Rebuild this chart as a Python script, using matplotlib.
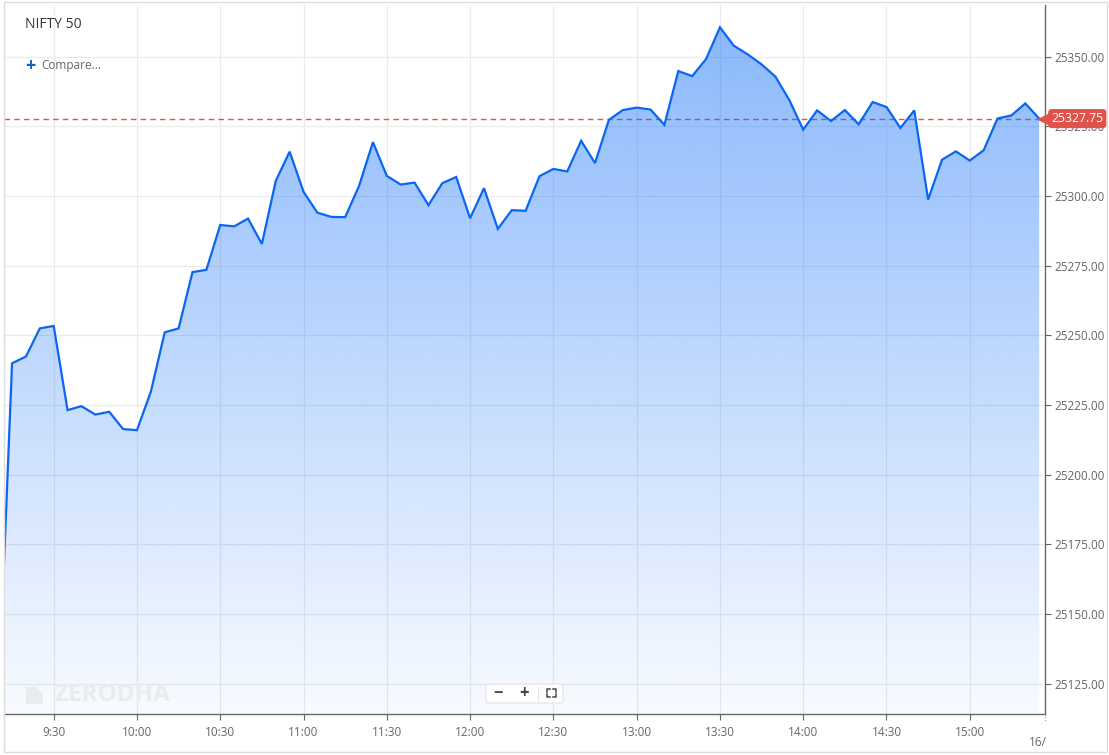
import numpy as np
import pandas as pd
import matplotlib
matplotlib.use("Agg")
import matplotlib.pyplot as plt
import matplotlib.transforms as mtransforms
from matplotlib.patches import Rectangle, Polygon, FancyBboxPatch
from matplotlib.lines import Line2D

plt.rcParams['font.family'] = ['Open Sans', 'DejaVu Sans']

# 5 minute closes, NIFTY 50 (9:10 is the tail of the previous candle, off the left edge)
start_time = "09:10"
closes = [25116.0,
          25240.0, 25242.4, 25252.5, 25253.4, 25223.2, 25224.6, 25221.6, 25222.6, 25216.4, 25216.0,
          25229.8, 25251.1, 25252.5, 25272.7, 25273.5, 25289.6, 25289.1, 25291.9, 25282.8, 25305.4,
          25315.9, 25301.5, 25294.0, 25292.5, 25292.4, 25303.6, 25319.3, 25307.2, 25304.1, 25304.8,
          25296.7, 25304.6, 25306.8, 25292.0, 25302.8, 25288.2, 25294.9, 25294.7, 25307.1, 25309.7,
          25308.8, 25319.8, 25311.8, 25327.3, 25330.8, 25331.7, 25331.0, 25325.5, 25344.8, 25343.0,
          25349.1, 25360.5, 25353.9, 25350.8, 25347.2, 25342.8, 25334.4, 25323.8, 25330.7, 25326.9,
          25330.8, 25325.7, 25333.7, 25331.9, 25324.4, 25330.7, 25298.7, 25313.0, 25316.0, 25312.7,
          25316.4, 25327.8, 25328.9, 25333.2, 25327.75]
last_price = 25327.75

x_ticks = ["9:30", "10:00", "10:30", "11:00", "11:30", "12:00", "12:30",
           "13:00", "13:30", "14:00", "14:30", "15:00"]
y_ticks = [25125, 25150, 25175, 25200, 25225, 25250, 25275, 25300, 25325, 25350]

times = pd.date_range("2025-09-17 " + start_time, periods=len(closes), freq="5min")
minutes = (times.hour * 60 + times.minute).to_numpy(dtype=float)
vals = np.array(closes)

def to_min(s):
    h, m = s.split(":")
    return int(h) * 60 + int(m)

W, H = 1109, 755
fig = plt.figure(figsize=(W / 100, H / 100), dpi=100)
fig.patch.set_facecolor("white")

def fx(p):
    return p / W

def fy(p):
    return 1 - p / H

ax = fig.add_axes([fx(4), fy(714), fx(1045) - fx(4), fy(5) - fy(714)])
ax.set_xlim(552.1, 927.1)
ax.set_ylim(25114.2, 25368.5)

# grid
ax.set_xticks([to_min(t) for t in x_ticks])
ax.set_xticklabels(x_ticks)
ax.set_yticks(y_ticks)
ax.set_yticklabels(["%.2f" % v for v in y_ticks])
ax.grid(True, color="#ebebeb", lw=0.9, zorder=0)
ax.set_axisbelow(True)

# last price dashed line (under the translucent fill)
ax.axhline(last_price, color="#e0564b", lw=1.0, dashes=(4, 3), zorder=1)

# gradient fill under the line
poly = ax.fill_between(minutes, vals, 25000, color="none", lw=0)
grad = np.linspace(0.03, 0.50, 256).reshape(-1, 1)
rgba = np.zeros((256, 1, 4))
rgba[..., 0] = 15 / 255
rgba[..., 1] = 110 / 255
rgba[..., 2] = 250 / 255
rgba[..., 3] = grad
im = ax.imshow(rgba, extent=[552.1, 927.1, 25114.2, 25368.5], origin="lower",
               aspect="auto", zorder=2, interpolation="bilinear")
path = poly.get_paths()[0]
im.set_clip_path(path, transform=ax.transData)

ax.plot(minutes, vals, color="#0a66f2", lw=1.6, zorder=3, solid_joinstyle="miter")

# axes styling
for s in ["top", "left"]:
    ax.spines[s].set_visible(False)
for s in ["right", "bottom"]:
    ax.spines[s].set_color("#666666")
    ax.spines[s].set_linewidth(1.0)
ax.yaxis.tick_right()
ax.tick_params(axis="y", length=4, width=0.8, color="#666666", labelcolor="#666666",
               labelsize=8.5, pad=3)
ax.tick_params(axis="x", length=4, width=0.8, color="#666666", labelcolor="#666666",
               labelsize=8.5, pad=5)

# price tag on the right, drawn over the 25325 label like the original
blend = mtransforms.blended_transform_factory(ax.transAxes, ax.transData)
ax.plot([1.0], [last_price], marker="<", ms=10, color="#e0534b", transform=blend,
        clip_on=False, zorder=5)
ax.text(1.006, last_price, "%.2f" % last_price, transform=blend, ha="left", va="center",
        color="white", fontsize=8.8, zorder=6, clip_on=False,
        bbox=dict(boxstyle="round,pad=0.25,rounding_size=0.3", fc="#e0534b", ec="none"))

# next day label cut at the edge
fig.text(fx(1047), fy(742), "16/", ha="right", va="center", color="#666666", fontsize=8.5)
fig.add_artist(Line2D([fx(1045), fx(1045)], [fy(714), fy(722)], color="#999999",
                      lw=0.8, ls=(0, (1, 1.5))))

# header texts
fig.text(fx(25), fy(25), "NIFTY 50", ha="left", va="center", color="#333333", fontsize=10)
fig.text(fx(30), fy(66), "+", ha="center", va="center", color="#1a5fd0",
         fontsize=13, fontweight="bold")
fig.text(fx(41), fy(66), "Compare...", ha="left", va="center", color="#666666", fontsize=8.5)

# watermark
fig.text(fx(54), fy(695), "ZERODHA", ha="left", va="center", color="#e9ebee",
         fontsize=17.5, fontweight="bold", zorder=1)
fig.add_artist(Polygon([(fx(26), fy(704)), (fx(26), fy(687)), (fx(36), fy(687)),
                        (fx(43), fy(694)), (fx(43), fy(704))],
                       closed=True, fc="#e9ebee", ec="none", zorder=1))

# zoom controls
fig.add_artist(FancyBboxPatch((fx(486), fy(703)), fx(563) - fx(486), fy(684) - fy(703),
                              boxstyle="round,pad=0,rounding_size=0.003", fc="white",
                              ec="#e3e3e3", lw=0.8, zorder=4))
fig.text(fx(498), fy(693), "\u2212", ha="center", va="center", color="#444444",
         fontsize=12, fontweight="bold", zorder=5)
fig.text(fx(524), fy(693), "+", ha="center", va="center", color="#444444",
         fontsize=12, fontweight="bold", zorder=5)
fig.add_artist(Line2D([fx(538), fx(538)], [fy(687), fy(700)], color="#e3e3e3", lw=0.8, zorder=5))
for cx, cy, dx, dy in [(547, 689, 1, 1), (556, 689, -1, 1), (547, 697, 1, -1), (556, 697, -1, -1)]:
    fig.add_artist(Line2D([fx(cx), fx(cx), fx(cx + 3 * dx)], [fy(cy + 3 * dy), fy(cy), fy(cy)],
                          color="#444444", lw=1.1, zorder=5))

# outer frame
fig.add_artist(Rectangle((fx(4), fy(752)), fx(1107) - fx(4), fy(2) - fy(752),
                         fill=False, ec="#dddddd", lw=1.0, zorder=10))

fig.savefig("out.png", dpi=100)
